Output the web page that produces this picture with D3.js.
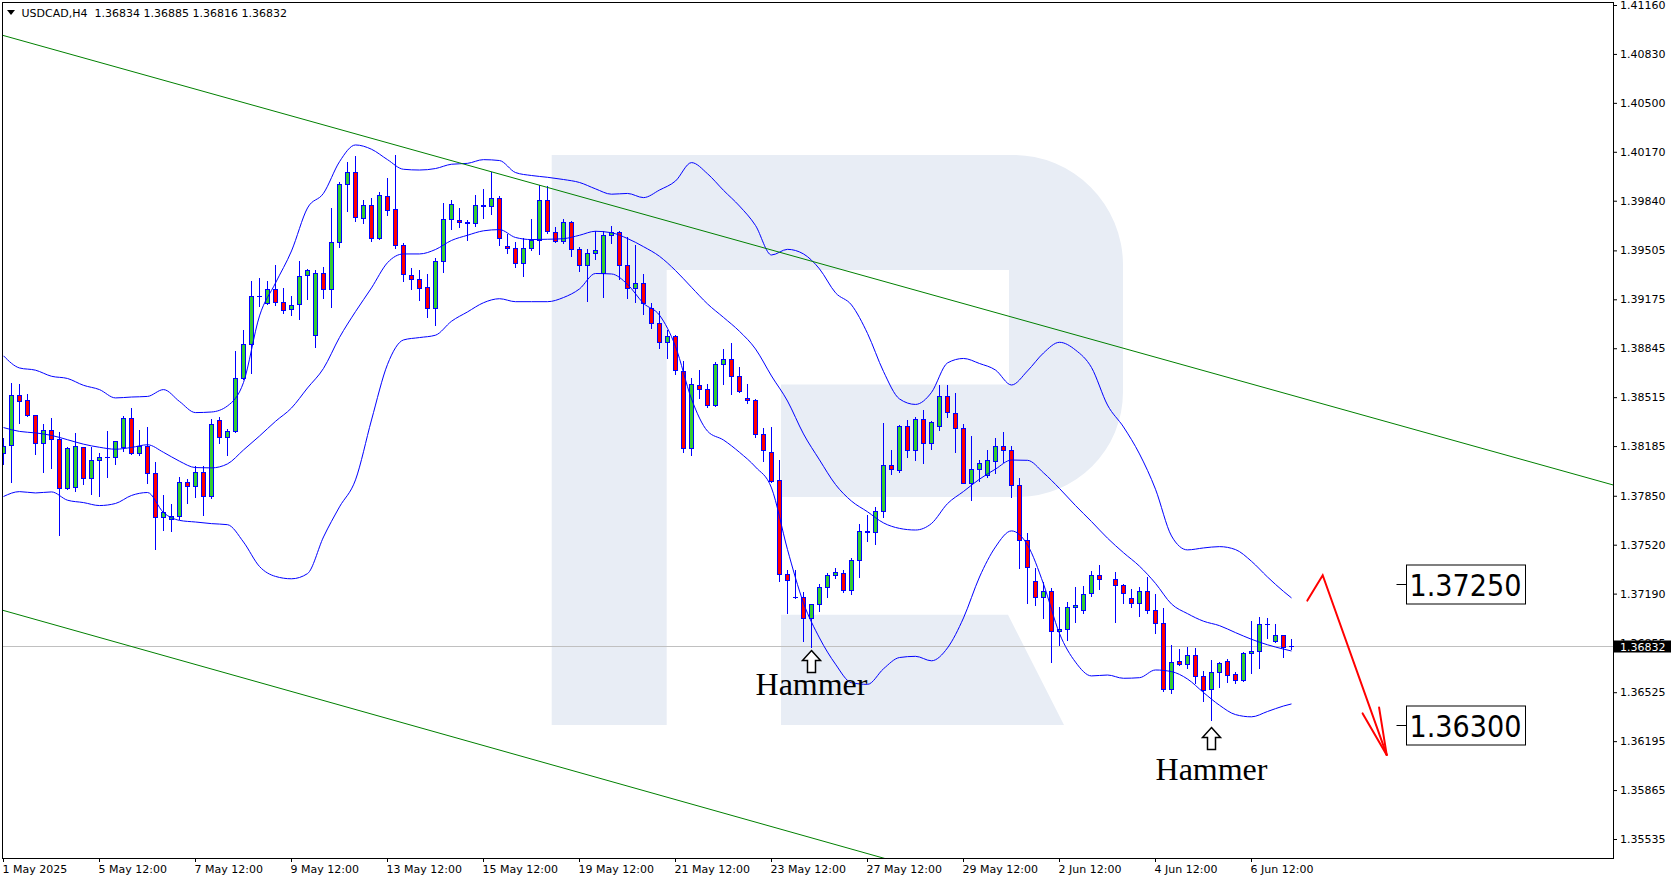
<!DOCTYPE html>
<html>
<head>
<meta charset="utf-8">
<script src="https://cdn.jsdelivr.net/npm/d3@7"></script>
<style>
  html, body { margin: 0; padding: 0; background: #ffffff; }
  svg { display: block; }
</style>
</head>
<body>
<svg id="chart" width="1677" height="882"></svg>
<script>
// USDCAD H4 candles, one entry per bar (null = no bar drawn)
const open = [
1.38137,1.38191,1.38523,1.38494,1.38393,1.38204,1.38289,1.38231,1.37901,1.37907,
1.38177,1.37968,1.38089,1.38110,1.38110,1.38177,1.38373,1.38137,1.38184,1.38002,
1.37705,1.37692,1.37712,1.37941,1.37914,1.38008,1.37847,1.38359,1.38245,1.38285,
1.38642,1.38872,1.39195,1.39148,1.39243,1.39155,1.39108,1.39141,1.39337,1.38932,
1.39351,1.39243,1.39560,1.39951,1.40032,1.39722,1.39809,1.39587,1.39870,1.39782,
1.39539,1.39337,1.39310,1.39257,1.39115,1.39432,1.39715,1.39708,1.39690,1.39688,
1.39802,1.39802,1.39856,1.39533,1.39519,1.39418,1.39519,1.39573,1.39843,1.39627,
1.39566,1.39694,1.39512,1.39405,1.39485,1.39351,1.39607,1.39627,1.39405,1.39250,
1.39283,1.39115,1.39013,1.38885,1.38926,1.38689,1.38170,1.38595,1.38568,1.38460,
1.38737,1.38771,1.38656,1.38508,1.38494,1.38265,1.38142,1.37953,1.37321,1.37164,
1.37162,1.37019,1.37114,1.37234,1.37312,1.37329,1.37210,1.37416,1.37607,1.37605,
1.37747,1.38054,1.38023,1.38315,1.38154,1.38363,1.38202,1.38315,1.38522,1.38405,
1.38302,1.37935,1.38025,1.37985,1.38080,1.38180,1.38154,1.37919,1.37545,1.37275,
1.37165,1.37201,1.36936,1.36949,1.37098,1.37078,1.37192,1.37314,null,1.37287,
1.37246,1.37158,1.37124,1.37201,1.37078,1.36990,1.36542,1.36734,1.36714,1.36775,
1.36633,1.36545,1.36660,1.36734,1.36646,1.36606,1.36788,1.36802,1.36983,1.36869,
1.36909,1.36834];
const high = [
1.38240,1.38609,1.38604,1.38537,1.38396,1.38334,1.38373,1.38280,1.38177,1.38276,
1.38180,1.38177,1.38137,1.38285,1.38220,1.38386,1.38440,1.38292,1.38312,1.38076,
1.37853,1.37793,1.37975,1.37961,1.38049,1.38049,1.38366,1.38380,1.38298,1.38825,
1.38966,1.39297,1.39317,1.39301,1.39405,1.39251,1.39198,1.39434,1.39378,1.39371,
1.39391,1.39789,1.39964,1.40099,1.40142,1.39843,1.39856,1.39897,1.39991,1.40146,
1.39553,1.39384,1.39371,1.39346,1.39452,1.39822,1.39843,1.39789,1.39708,1.39877,
1.39917,1.40032,1.39870,1.39614,1.39560,1.39587,1.39715,1.39944,1.39938,1.39661,
1.39715,1.39701,1.39526,1.39512,1.39634,1.39634,1.39667,1.39634,1.39593,1.39539,
1.39344,1.39148,1.39094,1.38966,1.38932,1.38757,1.38642,1.38696,1.38602,1.38750,
1.38838,1.38878,1.38716,1.38602,1.38501,1.38305,1.38315,1.38092,1.37352,1.37352,
1.37198,1.37116,1.37257,1.37329,1.37364,1.37352,1.37431,1.37661,1.37720,1.37776,
1.38344,1.38156,1.38327,1.38363,1.38380,1.38427,1.38351,1.38594,1.38594,1.38546,
1.38331,1.38256,1.38094,1.38156,1.38237,1.38282,1.38187,1.37971,1.37601,1.37360,
1.37270,1.37225,1.37102,1.37132,1.37233,1.37241,1.37345,1.37384,null,1.37334,
1.37253,1.37219,1.37233,1.37301,1.37188,1.37091,1.36844,1.36815,1.36829,1.36822,
1.36667,1.36741,1.36731,1.36747,1.36660,1.36795,1.37004,1.37030,1.37024,1.36983,
1.36911,1.36885];
const low = [
1.38065,1.37945,1.38339,1.38391,1.38132,1.38013,1.38040,1.37588,1.37898,1.37884,
1.37928,1.37864,1.37851,1.37979,1.38063,1.38150,1.38130,1.38123,1.37934,1.37489,
1.37617,1.37611,1.37692,1.37799,1.37840,1.37719,1.37833,1.38204,1.38123,1.38282,
1.38640,1.38676,1.39130,1.39146,1.39139,1.39085,1.39067,1.39044,1.39179,1.38852,
1.39182,1.39121,1.39530,1.39769,1.39701,1.39689,1.39566,1.39580,1.39742,1.39519,
1.39297,1.39247,1.39173,1.39054,1.39000,1.39361,1.39647,1.39661,1.39573,1.39667,
1.39722,1.39749,1.39539,1.39485,1.39395,1.39334,1.39506,1.39479,1.39620,1.39560,
1.39553,1.39465,1.39364,1.39162,1.39445,1.39189,1.39553,1.39310,1.39182,1.39155,
1.39074,1.38980,1.38845,1.38777,1.38669,1.38143,1.38123,1.38508,1.38446,1.38453,
1.38602,1.38534,1.38548,1.38474,1.38245,1.38083,1.37945,1.37276,1.37062,1.37160,
1.36872,1.36829,1.37072,1.37167,1.37293,1.37198,1.37190,1.37300,1.37547,1.37523,
1.37709,1.37996,1.38013,1.38113,1.38092,1.38068,1.38164,1.38292,1.38382,1.38143,
1.37933,1.37821,1.37947,1.37979,1.38001,1.38080,1.37843,1.37365,1.37129,1.37114,
1.37028,1.36731,1.36843,1.36877,1.37001,1.37061,1.37175,1.37220,null,1.37001,
1.37124,1.37098,1.37041,1.37058,1.36927,1.36536,1.36518,1.36707,1.36687,1.36586,
1.36465,1.36338,1.36558,1.36592,1.36590,1.36599,1.36653,1.36687,1.36889,1.36867,
1.36761,1.36816];
const close = [
1.38181,1.38523,1.38485,1.38393,1.38204,1.38289,1.38231,1.37901,1.38170,1.38184,
1.37968,1.38089,1.38110,1.38108,1.38218,1.38373,1.38137,1.38184,1.38002,1.37705,
1.37739,1.37712,1.37941,1.37914,1.38008,1.37847,1.38332,1.38245,1.38285,1.38642,
1.38872,1.39195,1.39192,1.39243,1.39155,1.39101,1.39135,1.39330,1.39371,1.39351,
1.39243,1.39560,1.39951,1.40032,1.39728,1.39809,1.39587,1.39877,1.39775,1.39539,
1.39344,1.39310,1.39250,1.39115,1.39432,1.39715,1.39816,1.39694,1.39688,1.39809,
1.39809,1.39856,1.39587,1.39519,1.39418,1.39519,1.39573,1.39843,1.39634,1.39566,
1.39694,1.39512,1.39405,1.39485,1.39506,1.39607,1.39627,1.39405,1.39250,1.39283,
1.39148,1.39013,1.38885,1.38926,1.38696,1.38170,1.38602,1.38568,1.38460,1.38737,
1.38771,1.38656,1.38555,1.38494,1.38265,1.38157,1.37947,1.37317,1.37276,1.37162,
1.37024,1.37114,1.37234,1.37312,1.37335,1.37210,1.37416,1.37607,1.37605,1.37747,
1.38054,1.38030,1.38315,1.38154,1.38363,1.38202,1.38344,1.38522,1.38410,1.38302,
1.37935,1.38025,1.38070,1.38088,1.38180,1.38154,1.37919,1.37545,1.37368,1.37165,
1.37201,1.36936,1.36949,1.37098,1.37111,1.37186,1.37314,1.37287,null,1.37246,
1.37192,1.37124,1.37201,1.37078,1.36990,1.36542,1.36727,1.36714,1.36775,1.36633,
1.36538,1.36660,1.36720,1.36640,1.36606,1.36788,1.36802,1.36983,1.36981,1.36909,
1.36828,1.36832];

// Bollinger band lines, sampled every second bar (plus the last bar)
const bandBars = d3.range(0, 161, 2).concat([161]);
const bandUpper = [
1.38794,1.38712,1.38697,1.38656,1.38641,1.38595,1.38566,1.38510,1.38516,1.38520,
1.38566,1.38486,1.38411,1.38415,1.38456,1.38614,1.39063,1.39285,1.39501,1.39791,
1.39890,1.40103,1.40216,1.40187,1.40117,1.40052,1.40047,1.40057,1.40086,1.40092,
1.40117,1.40111,1.40030,1.40010,1.39998,1.39983,1.39963,1.39920,1.39884,1.39889,
1.39861,1.39912,1.39973,1.40097,1.40022,1.39910,1.39804,1.39673,1.39474,1.39512,
1.39481,1.39380,1.39219,1.39137,1.38945,1.38688,1.38503,1.38466,1.38547,1.38746,
1.38776,1.38742,1.38698,1.38597,1.38692,1.38813,1.38885,1.38833,1.38715,1.38462,
1.38314,1.38132,1.37894,1.37579,1.37485,1.37498,1.37507,1.37487,1.37408,1.37302,
1.37205,1.37161];
const bandMiddle = [
1.38310,1.38284,1.38274,1.38257,1.38228,1.38198,1.38177,1.38164,1.38176,1.38194,
1.38143,1.38083,1.38040,1.38038,1.38065,1.38159,1.38253,1.38352,1.38442,1.38577,
1.38709,1.38918,1.39092,1.39252,1.39422,1.39481,1.39481,1.39511,1.39572,1.39607,
1.39637,1.39645,1.39592,1.39578,1.39580,1.39584,1.39607,1.39634,1.39624,1.39585,
1.39530,1.39465,1.39369,1.39256,1.39144,1.39053,1.38959,1.38840,1.38658,1.38489,
1.38267,1.38092,1.37926,1.37814,1.37742,1.37667,1.37630,1.37619,1.37663,1.37797,
1.37879,1.37962,1.38030,1.38091,1.38089,1.38005,1.37899,1.37784,1.37676,1.37564,
1.37466,1.37375,1.37259,1.37120,1.37055,1.37004,1.36974,1.36927,1.36882,1.36845,
1.36816,1.36803];
const bandLower = [
1.37845,1.37878,1.37869,1.37876,1.37820,1.37804,1.37784,1.37798,1.37852,1.37872,
1.37737,1.37684,1.37673,1.37662,1.37655,1.37538,1.37373,1.37306,1.37290,1.37325,
1.37572,1.37775,1.37957,1.38361,1.38736,1.38901,1.38917,1.38933,1.39027,1.39090,
1.39152,1.39179,1.39159,1.39159,1.39159,1.39187,1.39245,1.39349,1.39346,1.39276,
1.39148,1.39068,1.38857,1.38503,1.38286,1.38226,1.38143,1.38044,1.37903,1.37487,
1.37127,1.36891,1.36714,1.36589,1.36578,1.36683,1.36759,1.36767,1.36737,1.36824,
1.37026,1.37302,1.37505,1.37613,1.37518,1.37255,1.36921,1.36728,1.36635,1.36641,
1.36619,1.36623,1.36675,1.36664,1.36614,1.36523,1.36437,1.36374,1.36359,1.36395,
1.36432,1.36446];

// Axis ticks
const priceTicks = [1.41160,1.40830,1.40500,1.40170,1.39840,1.39505,1.39175,1.38845,1.38515,
  1.38185,1.37850,1.37520,1.37190,1.36855,1.36525,1.36195,1.35865,1.35535];
const timeTickBars = [0,12,24,36,48,60,72,84,96,108,120,132,144,156];
const timeTickLabels = ["1 May 2025","5 May 12:00","7 May 12:00","9 May 12:00","13 May 12:00",
  "15 May 12:00","19 May 12:00","21 May 12:00","23 May 12:00","27 May 12:00","29 May 12:00",
  "2 Jun 12:00","4 Jun 12:00","6 Jun 12:00"];

// Channel lines [bar, price] and the forecast arrow
const channelUpper = [[0.06, 1.40953], [201.19, 1.37923]];
const channelLower = [[-0.44, 1.37083], [109.94, 1.35407]];
const forecastPath = [[162.98, 1.37143], [164.9, 1.37314], [172.9, 1.36102]];
const targetLevels = [1.37250, 1.36300];
const targetBar = 175.3;
const hammers = [
  {bar: 101, arrowTop: 1.36810, textBase: 1.36507},
  {bar: 151, arrowTop: 1.36291, textBase: 1.35933}
];
const symbol = "USDCAD,H4";
const lastBar = 161;

const W = 1677, H = 882;
const frame = {x0: 2.5, y0: 2.5, x1: 1613.5, y1: 858.5};
const FONT = "DejaVu Sans";
const bullFill = "#32cd32", bearFill = "#ff0000", outline = "#0000ff";

const svg = d3.select("#chart");
svg.append("rect").attr("width", W).attr("height", H).attr("fill", "#ffffff");

const x = d3.scaleLinear().domain([0, 161]).range([3.5, 1291.5]);
const y = d3.scaleLinear().domain([1.35535, 1.41160]).range([839, 5]);
const snap = v => Math.round(v - 0.5) + 0.5;

svg.append("defs").append("clipPath").attr("id", "plotClip").append("rect")
  .attr("x", frame.x0).attr("y", frame.y0)
  .attr("width", frame.x1 - frame.x0).attr("height", frame.y1 - frame.y0);
const plot = svg.append("g").attr("clip-path", "url(#plotClip)");

// broker watermark
const watermark = "M551.7,155H1013A110,110 0 0 1 1123,265V392A105,105 0 0 1 1018,497H781V384.5H1009V270H666.7V725H551.7Z" +
                  "M781,614.7H1008L1064,725H781Z";
plot.append("path").attr("d", watermark).attr("fill", "#e8edf5");

// last price line
const lastY = snap(y(close[lastBar]));
plot.append("line").attr("x1", frame.x0).attr("x2", frame.x1)
  .attr("y1", lastY).attr("y2", lastY).attr("stroke", "#c0c0c0").attr("stroke-width", 1);

// candles
const bars = d3.range(open.length).filter(i => open[i] !== null);
const bodyTop = i => snap(Math.min(y(open[i]), y(close[i])));
const bodyBot = i => snap(Math.max(y(open[i]), y(close[i])));
const cg = plot.append("g");
cg.selectAll("line.wick").data(bars).join("line").attr("class", "wick")
  .attr("x1", i => x(i)).attr("x2", i => x(i))
  .attr("y1", i => Math.round(y(high[i]))).attr("y2", i => Math.round(y(low[i])) + 1)
  .attr("stroke", outline).attr("stroke-width", 1);
cg.selectAll("rect.body").data(bars.filter(i => bodyBot(i) - bodyTop(i) >= 1)).join("rect").attr("class", "body")
  .attr("x", i => x(i) - 2).attr("width", 4)
  .attr("y", i => bodyTop(i)).attr("height", i => bodyBot(i) - bodyTop(i))
  .attr("fill", i => close[i] >= open[i] ? bullFill : bearFill)
  .attr("stroke", outline).attr("stroke-width", 1);
cg.selectAll("line.doji").data(bars.filter(i => bodyBot(i) - bodyTop(i) < 1)).join("line").attr("class", "doji")
  .attr("x1", i => x(i) - 2.5).attr("x2", i => x(i) + 2.5)
  .attr("y1", i => snap(y(close[i]))).attr("y2", i => snap(y(close[i])))
  .attr("stroke", outline).attr("stroke-width", 1);

// Bollinger bands
const bandLine = d3.line().x((d, k) => x(bandBars[k])).y(d => y(d)).curve(d3.curveMonotoneX);
[bandUpper, bandMiddle, bandLower].forEach(vals => {
  plot.append("path").attr("d", bandLine(vals)).attr("fill", "none")
    .attr("stroke", outline).attr("stroke-width", 1);
});

// channel lines, extended across the plot
function extendLine(p, q, b0, b1) {
  const s = (q[1] - p[1]) / (q[0] - p[0]);
  return [[b0, p[1] + s * (b0 - p[0])], [b1, p[1] + s * (b1 - p[0])]];
}
[channelUpper, channelLower].forEach(seg => {
  const e = extendLine(seg[0], seg[1], -2, 210);
  plot.append("line")
    .attr("x1", x(e[0][0])).attr("y1", y(e[0][1]))
    .attr("x2", x(e[1][0])).attr("y2", y(e[1][1]))
    .attr("stroke", "#008000").attr("stroke-width", 1);
});

// forecast arrow
const fp = forecastPath.map(d => [x(d[0]), y(d[1])]);
const tip = fp[fp.length - 1], prev = fp[fp.length - 2];
const back = Math.atan2(prev[1] - tip[1], prev[0] - tip[0]);
const barbLen = 48, spread = 10.5 * Math.PI / 180;
const barbs = [back - spread, back + spread].map(a => [tip[0] + barbLen * Math.cos(a), tip[1] + barbLen * Math.sin(a)]);
const arrowG = plot.append("g").attr("fill", "none").attr("stroke", "#ff0000")
  .attr("stroke-width", 2).attr("stroke-linejoin", "miter").attr("stroke-linecap", "round");
arrowG.append("path").attr("d", d3.line()(fp));
barbs.forEach(b => arrowG.append("path").attr("d", d3.line()([tip, b])));

// target price labels
const lg = svg.append("g");
targetLevels.forEach(v => {
  const ly = snap(y(v));
  const lx = Math.round(x(targetBar)) + 0.5;
  lg.append("line").attr("x1", lx - 10).attr("x2", lx).attr("y1", ly).attr("y2", ly)
    .attr("stroke", "#000").attr("stroke-width", 1);
  lg.append("rect").attr("x", lx).attr("y", ly - 19.5).attr("width", 119).attr("height", 39)
    .attr("fill", "#ffffff").attr("stroke", "#000").attr("stroke-width", 1);
  lg.append("text").attr("x", lx + 3).attr("y", ly + 11.5)
    .attr("font-family", FONT).attr("font-size", 31).attr("fill", "#000")
    .attr("textLength", 112).attr("lengthAdjust", "spacingAndGlyphs")
    .text(d3.format(".5f")(v));
});

// hammer markers
const hg = svg.append("g");
hammers.forEach(h => {
  const cx = x(h.bar), top = Math.round(y(h.arrowTop)) + 0.5;
  const shape = [[cx, top], [cx + 9, top + 10], [cx + 4, top + 10], [cx + 4, top + 22],
                 [cx - 4, top + 22], [cx - 4, top + 10], [cx - 9, top + 10]];
  hg.append("path").attr("d", d3.line()(shape) + "Z")
    .attr("fill", "#ffffff").attr("stroke", "#000").attr("stroke-width", 1.5).attr("stroke-linejoin", "miter");
  hg.append("text").attr("x", cx).attr("y", y(h.textBase)).attr("text-anchor", "middle")
    .attr("font-family", "Liberation Serif").attr("font-size", 32).attr("fill", "#000")
    .text("Hammer");
});

// frame
svg.append("rect").attr("x", frame.x0).attr("y", frame.y0)
  .attr("width", frame.x1 - frame.x0).attr("height", frame.y1 - frame.y0)
  .attr("fill", "none").attr("stroke", "#000").attr("stroke-width", 1);

// price axis
const yAxis = d3.axisRight(y).tickValues(priceTicks).tickSize(4).tickFormat(d3.format(".5f"));
const yg = svg.append("g").attr("transform", `translate(${frame.x1 - 0.5},0)`).call(yAxis);
yg.select(".domain").remove();
yg.selectAll("line").attr("stroke", "#000");
yg.selectAll("text").attr("font-family", FONT).attr("font-size", 11).attr("fill", "#000").attr("x", 7);

// time axis
const xAxis = d3.axisBottom(x).tickValues(timeTickBars).tickSize(4).offset(0)
  .tickFormat((d, k) => timeTickLabels[k]);
const xg = svg.append("g").attr("transform", `translate(0,${frame.y1 - 0.5})`).call(xAxis);
xg.select(".domain").remove();
xg.selectAll("line").attr("stroke", "#000");
xg.selectAll("text").attr("font-family", FONT).attr("font-size", 11).attr("fill", "#000")
  .attr("text-anchor", "start").attr("x", -1);

// last price tag
const tag = svg.append("g");
tag.append("rect").attr("x", 1614).attr("y", lastY - 6).attr("width", 57).attr("height", 12).attr("fill", "#000");
tag.append("text").attr("x", 1620).attr("y", lastY + 4).attr("font-family", FONT).attr("font-size", 11)
  .attr("fill", "#fff").text(d3.format(".5f")(close[lastBar]));

// header
const hd = svg.append("g");
hd.append("path").attr("d", "M7,10H15L11,15Z").attr("fill", "#000");
hd.append("text").attr("x", 21.5).attr("y", 16.5).attr("font-family", FONT).attr("font-size", 11)
  .attr("fill", "#000").text(symbol);
hd.append("text").attr("x", 94.5).attr("y", 16.5).attr("font-family", FONT).attr("font-size", 11)
  .attr("fill", "#000")
  .text([open[lastBar], high[lastBar], low[lastBar], close[lastBar]].map(d3.format(".5f")).join(" "));
</script>
</body>
</html>
